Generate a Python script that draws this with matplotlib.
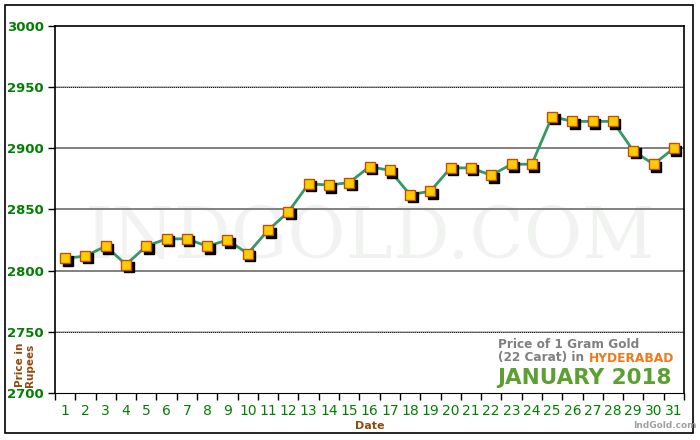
import matplotlib
import matplotlib.pyplot as plt
import matplotlib.transforms as mtransforms
from matplotlib.patches import Rectangle

matplotlib.use("Agg")

# Gold price, Hyderabad, January 2018 (22 carat, per gram)
DAYS = list(range(1, 32))
PRICES = [
    2810, 2812, 2820, 2805, 2820, 2826, 2826, 2820, 2825, 2814,
    2833, 2848, 2871, 2870, 2872, 2885, 2882, 2862, 2865, 2884,
    2884, 2878, 2887, 2887, 2926, 2922, 2922, 2922, 2898, 2887,
    2900,
]
Y_TICKS = [2700, 2750, 2800, 2850, 2900, 2950, 3000]

GREEN_TEXT = "#008000"
BROWN = "#8B4C0F"
LINE_GREEN = "#339966"


def main() -> None:
    fig = plt.figure(figsize=(7, 4.4), dpi=100)
    fig.patch.set_facecolor("white")

    # outer frame
    fig.patches.append(
        Rectangle((5 / 700, 1 - 433 / 440), 688 / 700, 428 / 440,
                  transform=fig.transFigure, fill=False, edgecolor="black",
                  linewidth=1.2)
    )

    ax = fig.add_axes([55 / 700, 47 / 440, 629 / 700, 367 / 440])
    ax.set_xlim(0.5, 31.5)
    ax.set_ylim(2700, 3000)

    # grid lines
    for y in [2800, 2850, 2900]:
        ax.axhline(y, color="#777777", linewidth=1.3, zorder=1)
    for y in [2750, 2950]:
        ax.axhline(y, color="#bbbbbb", linewidth=1.3, zorder=1)
        ax.axhline(y, color="black", linewidth=0.7, linestyle=(0, (1, 1)), zorder=1)

    # watermark
    ax.text(0.5, 0.42, "INDGOLD.COM", transform=ax.transAxes, ha="center",
            va="center", fontsize=51, family="DejaVu Serif", color="#f1f3f1",
            zorder=0)

    for side in ["left", "right", "top"]:
        ax.spines[side].set_color("black")
        ax.spines[side].set_linewidth(1.2)
    ax.spines["bottom"].set_linestyle((0, (2, 1)))
    ax.spines["bottom"].set_linewidth(0.8)

    # shadow, line and markers
    shadow = mtransforms.offset_copy(ax.transData, fig=fig, x=1.8, y=-1.8,
                                     units="points")
    ax.plot(DAYS, PRICES, linestyle="none", marker="s", markersize=7,
            color="black", transform=shadow, zorder=3)
    ax.plot(DAYS, PRICES, color=LINE_GREEN, linewidth=2, zorder=2)
    ax.plot(DAYS, PRICES, linestyle="none", marker="s", markersize=7,
            markerfacecolor="#FFCC00", markeredgecolor="#B8520A",
            markeredgewidth=1, zorder=4)

    # ticks
    ax.set_yticks(Y_TICKS)
    ax.set_yticklabels([str(v) for v in Y_TICKS], color=GREEN_TEXT,
                       fontsize=9.5, fontweight="bold")
    ax.tick_params(axis="y", length=5, width=1, pad=3)
    ax.set_xticks([d - 0.5 for d in DAYS] + [31.5])
    ax.set_xticklabels([])
    ax.tick_params(axis="x", length=5, width=1, direction="out")
    for d in DAYS:
        ax.text(d, -0.05, str(d), transform=ax.get_xaxis_transform(),
                ha="center", va="center", color=GREEN_TEXT, fontsize=10)

    ax.text(0.5, -0.09, "Date", transform=ax.transAxes, ha="center",
            va="center", color=BROWN, fontsize=8, fontweight="bold")
    fig.text(25 / 700, 1 - 365 / 440, "Price in\nRupees", rotation=90,
             ha="center", va="center", color=BROWN, fontsize=7.5,
             fontweight="bold", linespacing=1.0)

    # caption box
    fig.text(498 / 700, 1 - 344 / 440, "Price of 1 Gram Gold", ha="left",
             va="center", color="#808080", fontsize=8.7, fontweight="bold")
    carat = fig.text(498 / 700, 1 - 358 / 440, "(22 Carat) in ", ha="left",
                     va="center", color="#808080", fontsize=8.7,
                     fontweight="bold")
    ax.annotate("HYDERABAD", xy=(1, 0.5), xycoords=carat, ha="left",
                va="center", color="#F07818", fontsize=8.8,
                fontweight="bold", annotation_clip=False)
    fig.text(497 / 700, 1 - 378 / 440, "JANUARY 2018", ha="left",
             va="center", color="#5CA032", fontsize=15.5, fontweight="bold")
    fig.text(665 / 700, 1 - 425 / 440, "IndGold.com", ha="center",
             va="center", color="#a0a0a0", fontsize=6.5, fontweight="bold")

    plt.savefig("out.png", dpi=100)
    plt.close()


if __name__ == "__main__":
    main()
